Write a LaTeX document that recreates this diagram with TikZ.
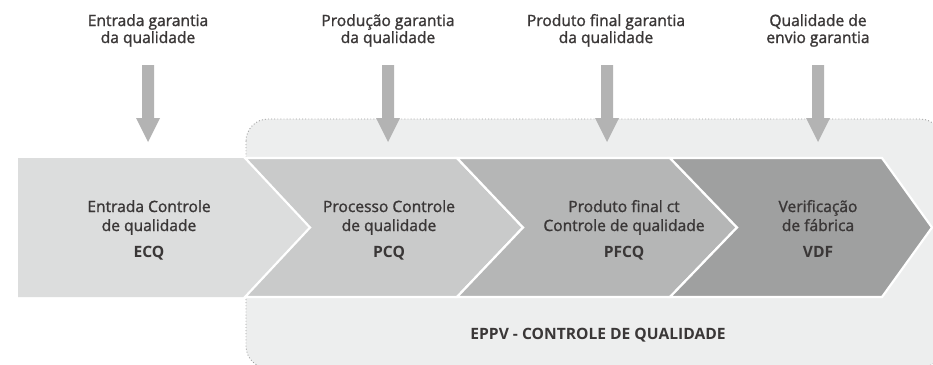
\documentclass[tikz,border=0pt]{standalone}
\usepackage{fontspec}
\setmainfont{Open Sans}
\newfontfamily\medfont{Open Sans}[FakeBold=1.4]
\newfontfamily\boldfont{Open Sans Bold}
\begin{document}
\begin{tikzpicture}[x=1pt,y=-1pt,
  txt/.style={text=txtc, inner sep=0pt, align=center, font=\medfont\fontsize{15.6}{17}\selectfont},
  boxtxt/.style={text=txtc, inner sep=0pt, align=center, font=\medfont\fontsize{15.6}{19}\selectfont},
  chev/.style={draw=white, line width=2.2pt, line join=miter}]
\definecolor{txtc}{HTML}{3A3737}
\definecolor{arrc}{HTML}{B3B3B3}
\definecolor{bgc}{HTML}{EDEEEE}
\definecolor{dotc}{HTML}{A0A0A0}
\definecolor{c1}{HTML}{DCDDDD}
\definecolor{c2}{HTML}{C9CACA}
\definecolor{c3}{HTML}{B5B6B6}
\definecolor{c4}{HTML}{9FA0A0}
\clip (0,0) rectangle (933,364);
\fill[white] (0,0) rectangle (933,364);
% background region
\draw[fill=bgc, draw=dotc, line width=0.9pt, dash pattern=on 0.9pt off 2.2pt, rounded corners=22pt]
  (246,119) rectangle (942,368);
% chevrons
\fill[c1] (18,158) -- (245,158) -- (310,227.5) -- (245,297) -- (18,297) -- cycle;
\filldraw[chev, fill=c2] (245,158) -- (457,158) -- (523,227.5) -- (457,297) -- (245,297) -- (310,227.5) -- cycle;
\filldraw[chev, fill=c3] (457,158) -- (670,158) -- (737,227.5) -- (670,297) -- (457,297) -- (523,227.5) -- cycle;
\filldraw[chev, fill=c4] (670,158) -- (882,158) -- (932,227.5) -- (882,297) -- (670,297) -- (737,227.5) -- cycle;
% top labels (base anchor = last line baseline)
\node[txt, anchor=base] (l1) at (148,43) {Entrada garantia\\da qualidade};
\node[txt, anchor=base] (l2) at (388,43) {Produção garantia\\da qualidade};
\node[txt, anchor=base] (l3) at (606,43) {Produto final garantia\\da qualidade};
\node[txt, anchor=base] (l4) at (818,43) {Qualidade de\\envio garantia};
% arrows
\foreach \x in {148,388,607,818}{
  \fill[arrc] (\x-6,65) -- (\x+6,65) -- (\x+6,118) -- (\x+12,118) -- (\x,142) -- (\x-12,118) -- (\x-6,118) -- cycle;
}
% box texts
\node[boxtxt, anchor=base] (b1) at (149,257) {Entrada Controle\\de qualidade\\[7pt]{\boldfont ECQ}};
\node[boxtxt, anchor=base] (b2) at (389,257) {Processo Controle\\de qualidade\\[7pt]{\boldfont PCQ}};
\node[boxtxt, anchor=base] (b3) at (624,257) {Produto final ct\\Controle de qualidade\\[7pt]{\boldfont PFCQ}};
\node[boxtxt, anchor=base] (b4) at (818,257) {Verificação\\de fábrica\\[7pt]{\boldfont VDF}};
% bottom label
\node[text=txtc, inner sep=0pt, anchor=base, font=\boldfont\fontsize{15.6}{17}\selectfont] (eppv) at (598,339) {EPPV - CONTROLE DE QUALIDADE};
\end{tikzpicture}
\end{document}
